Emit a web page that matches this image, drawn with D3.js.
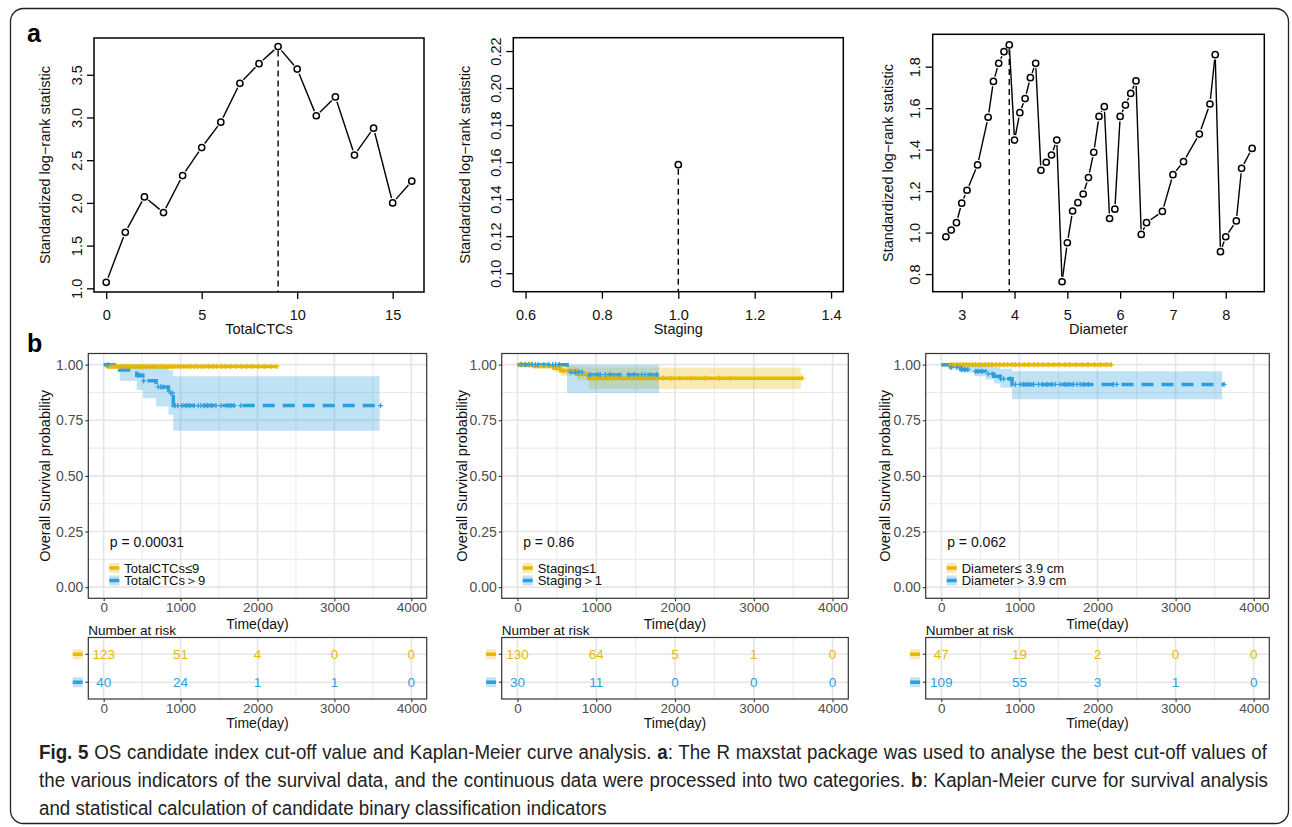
<!DOCTYPE html>
<html>
<head>
<meta charset="utf-8">
<script src="https://cdn.jsdelivr.net/npm/d3@7"></script>
<style>
  body { margin: 0; background: #fff; }
  svg text { font-family: "Liberation Sans", Arial, sans-serif; }
</style>
</head>
<body>
<svg id="fig" width="1292" height="827"></svg>
<script>
// ---- panel a: maxstat standardized log-rank statistic ----
const ctcCut = [0, 1, 2, 3, 4, 5, 6, 7, 8, 9, 10, 11, 12, 13, 14, 15, 16];
const ctcStat = [1.07, 1.656, 2.07, 1.887, 2.32, 2.648, 2.945, 3.40, 3.63, 3.83, 3.566, 3.02, 3.24, 2.56, 2.875, 2.0, 2.254];
const ctcBest = 9;

const stagingCut = [1.0];
const stagingStat = [0.1586];
const stagingBest = 1.0;

const diamCut = [2.7, 2.8, 2.9, 3.0, 3.1, 3.3, 3.5, 3.6, 3.7, 3.8, 3.9, 4.0, 4.1, 4.2, 4.3, 4.4, 4.5, 4.6, 4.7, 4.8,
  4.9, 5.0, 5.1, 5.2, 5.3, 5.4, 5.5, 5.6, 5.7, 5.8, 5.9, 6.0, 6.1, 6.2, 6.3, 6.4, 6.5, 6.8, 7.0, 7.2, 7.5, 7.7, 7.8,
  7.9, 8.0, 8.2, 8.3, 8.5];
const diamStat = [0.98, 1.012, 1.048, 1.142, 1.204, 1.326, 1.556, 1.729, 1.816, 1.872, 1.905, 1.446, 1.578, 1.646,
  1.747, 1.816, 1.30, 1.339, 1.374, 1.446, 0.763, 0.951, 1.104, 1.144, 1.186, 1.265, 1.387, 1.560, 1.607, 1.068,
  1.113, 1.560, 1.615, 1.671, 1.731, 0.991, 1.048, 1.102, 1.279, 1.342, 1.475, 1.62, 1.858, 0.908, 0.98, 1.056,
  1.31, 1.406];
const diamBest = 3.9;

// ---- panel b: Kaplan-Meier curves (time in days) ----
const ctcLowTime = [0, 50];
const ctcLowSurv = [1.0, 0.992];
const ctcLowLower = [1.0, 0.979];
const ctcLowUpper = [1.0, 1.0];
const ctcLowCensor = [62, 95, 128, 162, 190, 228, 255, 292, 318, 352, 381, 416, 447, 478, 512, 541, 578, 606, 643,
  671, 708, 742, 771, 812, 843, 884, 918, 962, 1003, 1041, 1092, 1128, 1177, 1218, 1272, 1318, 1371, 1424, 1468,
  1533, 1587, 1652, 1718, 1793, 1858, 1934, 2012, 2088, 2171, 2252];

const ctcHighTime = [0, 207, 430, 509, 682, 842, 905];
const ctcHighSurv = [1.0, 0.976, 0.952, 0.927, 0.900, 0.872, 0.816];
const ctcHighLower = [1.0, 0.928, 0.886, 0.849, 0.812, 0.775, 0.703];
const ctcHighUpper = [1.0, 1.0, 1.0, 0.99, 0.985, 0.975, 0.948];
const ctcHighCensor = [56, 440, 470, 520, 710, 740, 770, 870, 895, 930, 963, 1015, 1071, 1114, 1179, 1231, 1265,
  1308, 1351, 1403, 1460, 1525, 1611, 1654, 1697, 1784, 3600];

const stageLowTime = [0, 210, 462, 547, 758, 904];
const stageLowSurv = [1.0, 0.994, 0.984, 0.972, 0.957, 0.939];
const stageLowLower = [1.0, 0.983, 0.968, 0.950, 0.930, 0.890];
const stageLowUpper = [1.0, 1.0, 1.0, 0.995, 0.99, 0.987];
const stageLowCensor = [35, 72, 104, 141, 176, 214, 252, 289, 331, 368, 412, 449, 502, 538, 591, 642, 688, 742,
  791, 838, 882, 931, 966, 1003, 1038, 1082, 1121, 1158, 1203, 1248, 1302, 1349, 1401, 1452, 1498, 1561, 1622,
  1688, 1762, 1851, 1948, 2062, 2204, 2381, 2558, 2703, 3615];

const stageHighTime = [0, 630, 900];
const stageHighSurv = [1.0, 0.966, 0.955];
const stageHighLower = [1.0, 0.872, 0.872];
const stageHighUpper = [1.0, 1.0, 1.0];
const stageHighCensor = [50, 100, 150, 185, 230, 262, 335, 400, 450, 485, 530, 673, 736, 778, 821, 925, 1018,
  1052, 1115, 1178, 1304, 1410, 1481, 1578, 1620, 1683, 1768];

const diamLowTime = [0];
const diamLowSurv = [1.0];
const diamLowLower = [1.0];
const diamLowUpper = [1.0];
const diamLowCensor = [121, 158, 203, 239, 282, 318, 361, 402, 438, 483, 519, 562, 604, 648, 703, 748, 802, 849,
  903, 948, 1002, 1061, 1118, 1183, 1238, 1302, 1368, 1442, 1508, 1583, 1648, 1722, 1801, 1878, 1962, 2038, 2112,
  2178];

const diamHighTime = [0, 119, 250, 416, 565, 671, 756, 906];
const diamHighSurv = [1.0, 0.988, 0.978, 0.970, 0.958, 0.948, 0.936, 0.911];
const diamHighLower = [1.0, 0.978, 0.963, 0.948, 0.933, 0.915, 0.896, 0.844];
const diamHighUpper = [1.0, 1.0, 1.0, 0.998, 0.993, 0.988, 0.982, 0.970];
const diamHighCensor = [130, 200, 260, 300, 340, 440, 470, 520, 600, 650, 760, 800, 880, 948, 1011, 1054, 1097,
  1139, 1182, 1245, 1288, 1352, 1416, 1458, 1522, 1585, 1628, 1691, 1735, 1777, 1819, 1883, 2202, 2245, 3620];

const riskTimes = [0, 1000, 2000, 3000, 4000];
const ctcRiskLow = [123, 51, 4, 0, 0];
const ctcRiskHigh = [40, 24, 1, 1, 0];
const stageRiskLow = [130, 64, 5, 1, 0];
const stageRiskHigh = [30, 11, 0, 0, 0];
const diamRiskLow = [47, 19, 2, 0, 0];
const diamRiskHigh = [109, 55, 3, 1, 0];

const pValues = ["p = 0.00031", "p = 0.86", "p = 0.062"];
const legendLabels = [
  ["TotalCTCs≤9", "TotalCTCs＞9"],
  ["Staging≤1", "Staging＞1"],
  ["Diameter≤ 3.9 cm", "Diameter＞3.9 cm"]
];

const yellow = "#E7B800";
const blue = "#2E9FDF";

const svg = d3.select("#fig");
svg.append("rect").attr("width", 1292).attr("height", 827).attr("fill", "#fff");

// figure frame
svg.append("rect")
  .attr("x", 10.5).attr("y", 8.5).attr("width", 1278).attr("height", 815).attr("rx", 13)
  .attr("fill", "none").attr("stroke", "#222").attr("stroke-width", 1.3);

svg.append("text").attr("x", 27).attr("y", 42).text("a")
  .attr("font-size", 25).attr("font-weight", "bold");
svg.append("text").attr("x", 27).attr("y", 352).text("b")
  .attr("font-size", 25).attr("font-weight", "bold");

// ---------- maxstat plots ----------
function drawStat(p) {
  const x = d3.scaleLinear().domain(p.xDom).range([p.x0, p.x1]);
  const y = d3.scaleLinear().domain(p.yDom).range([p.y1, p.y0]);
  const g = svg.append("g");

  const xa = g.append("g").attr("transform", `translate(0,${p.y1})`)
    .call(d3.axisBottom(x).tickValues(p.xTicks).tickFormat(p.xFmt).tickSize(7).tickPadding(11).tickSizeOuter(0));
  xa.select(".domain").remove();
  xa.selectAll("line").attr("stroke", "#000").attr("stroke-width", 1.3);
  xa.selectAll("text").attr("font-size", 14.5).attr("fill", "#111");

  const ya = g.append("g").attr("transform", `translate(${p.x0},0)`)
    .call(d3.axisLeft(y).tickValues(p.yTicks).tickFormat(p.yFmt).tickSize(7).tickSizeOuter(0));
  ya.select(".domain").remove();
  ya.selectAll("line").attr("stroke", "#000").attr("stroke-width", 1.3);
  ya.selectAll("text")
    .attr("x", 0).attr("y", 0).attr("dy", "0.35em")
    .attr("text-anchor", "middle")
    .attr("transform", `translate(${-p.yLabOff},0) rotate(-90)`)
    .attr("font-size", 14.5).attr("fill", "#111");

  g.append("text")
    .attr("transform", `translate(${p.x0 - p.yTitleOff},${(p.y0 + p.y1) / 2}) rotate(-90)`)
    .attr("text-anchor", "middle").attr("dy", "0.35em")
    .attr("font-size", 14.5).attr("fill", "#111")
    .text("Standardized log\u2212rank statistic");
  g.append("text")
    .attr("x", (p.x0 + p.x1) / 2).attr("y", 329).attr("dy", "0.35em")
    .attr("text-anchor", "middle").attr("font-size", 14.5).attr("fill", "#111")
    .text(p.title);

  // cut-off line
  const bi = p.cut.indexOf(p.best);
  g.append("line")
    .attr("x1", x(p.best)).attr("x2", x(p.best))
    .attr("y1", y(p.stat[bi]) + 4).attr("y2", p.y1)
    .attr("stroke", "#000").attr("stroke-width", 1.4).attr("stroke-dasharray", "6,4");

  // type = "b" segments with gaps around points
  const pts = p.cut.map((c, i) => [x(c), y(p.stat[i])]);
  const gap = 5;
  for (let i = 0; i < pts.length - 1; i++) {
    const [ax, ay] = pts[i], [bx, by] = pts[i + 1];
    const dx = bx - ax, dy = by - ay, len = Math.hypot(dx, dy);
    if (len <= 2 * gap + 1) continue;
    const ux = dx / len, uy = dy / len;
    g.append("line")
      .attr("x1", ax + ux * gap).attr("y1", ay + uy * gap)
      .attr("x2", bx - ux * gap).attr("y2", by - uy * gap)
      .attr("stroke", "#000").attr("stroke-width", 1.4);
  }
  g.selectAll("circle.pt").data(pts).enter().append("circle")
    .attr("class", "pt")
    .attr("cx", d => d[0]).attr("cy", d => d[1]).attr("r", 3.1)
    .attr("fill", "#fff").attr("stroke", "#000").attr("stroke-width", 1.5);

  g.append("rect")
    .attr("x", p.x0).attr("y", p.y0).attr("width", p.x1 - p.x0).attr("height", p.y1 - p.y0)
    .attr("fill", "none").attr("stroke", "#000").attr("stroke-width", 1.5);
}

drawStat({
  x0: 94, x1: 424, y0: 38, y1: 292, xDom: [-0.64, 16.64], yDom: [0.957, 3.93],
  xTicks: [0, 5, 10, 15], xFmt: d3.format("d"), yTicks: [1.0, 1.5, 2.0, 2.5, 3.0, 3.5], yFmt: d3.format(".1f"),
  yLabOff: 17, yTitleOff: 49, title: "TotalCTCs", cut: ctcCut, stat: ctcStat, best: ctcBest
});
drawStat({
  x0: 513.3, x1: 843.3, y0: 37.7, y1: 291.7, xDom: [0.568, 1.432], yDom: [0.090, 0.2272],
  xTicks: [0.6, 0.8, 1.0, 1.2, 1.4], xFmt: d3.format(".1f"),
  yTicks: [0.10, 0.12, 0.14, 0.16, 0.18, 0.20, 0.22], yFmt: d3.format(".2f"),
  yLabOff: 17, yTitleOff: 48, title: "Staging", cut: stagingCut, stat: stagingStat, best: stagingBest
});
drawStat({
  x0: 932.7, x1: 1264.3, y0: 34.3, y1: 291.7, xDom: [2.45, 8.73], yDom: [0.715, 1.956],
  xTicks: [3, 4, 5, 6, 7, 8], xFmt: d3.format("d"), yTicks: [0.8, 1.0, 1.2, 1.4, 1.6, 1.8], yFmt: d3.format(".1f"),
  yLabOff: 17.5, yTitleOff: 45, title: "Diameter", cut: diamCut, stat: diamStat, best: diamBest
});

// ---------- Kaplan-Meier plots ----------
const kmY0 = 353.5, kmY1 = 598.3, tabY0 = 637.5, tabY1 = 699;
const majorT = [0, 1000, 2000, 3000, 4000], minorT = [500, 1500, 2500, 3500];
const majorS = [0, 0.25, 0.5, 0.75, 1.0], minorS = [0.125, 0.375, 0.625, 0.875];

function keyGlyph(g, cx, cy, color) {
  g.append("rect").attr("x", cx - 5).attr("y", cy - 5).attr("width", 10).attr("height", 10)
    .attr("fill", color).attr("fill-opacity", 0.3);
  g.append("line").attr("x1", cx - 5).attr("x2", cx + 5).attr("y1", cy).attr("y2", cy)
    .attr("stroke", color).attr("stroke-width", 3.5);
}

function drawKM(p) {
  const x = d3.scaleLinear().domain([-200, 4200]).range([p.x0, p.x1]);
  const y = d3.scaleLinear().domain([-0.05, 1.05]).range([kmY1, kmY0]);
  const g = svg.append("g");

  // grid
  g.selectAll("line.mnx").data(minorT).enter().append("line")
    .attr("x1", d => x(d)).attr("x2", d => x(d)).attr("y1", kmY0).attr("y2", kmY1)
    .attr("stroke", "#EBEBEB").attr("stroke-width", 1.1);
  g.selectAll("line.mny").data(minorS).enter().append("line")
    .attr("y1", d => y(d)).attr("y2", d => y(d)).attr("x1", p.x0).attr("x2", p.x1)
    .attr("stroke", "#EBEBEB").attr("stroke-width", 1.1);
  g.selectAll("line.mjx").data(majorT).enter().append("line")
    .attr("x1", d => x(d)).attr("x2", d => x(d)).attr("y1", kmY0).attr("y2", kmY1)
    .attr("stroke", "#E6E6E6").attr("stroke-width", 1.6);
  g.selectAll("line.mjy").data(majorS).enter().append("line")
    .attr("y1", d => y(d)).attr("y2", d => y(d)).attr("x1", p.x0).attr("x2", p.x1)
    .attr("stroke", "#E6E6E6").attr("stroke-width", 1.6);

  const line = d3.line().curve(d3.curveStepAfter).x(d => x(d[0])).y(d => y(d[1]));
  const area = d3.area().curve(d3.curveStepAfter).x(d => x(d.t)).y0(d => y(d.lo)).y1(d => y(d.hi));

  // survival curves
  p.groups.forEach(gr => {
    const pts = gr.time.map((t, i) => [t, gr.surv[i]]);
    pts.push([gr.end, gr.surv[gr.surv.length - 1]]);
    g.append("path").attr("d", line(pts)).attr("fill", "none")
      .attr("stroke", gr.color).attr("stroke-width", 3.5)
      .attr("stroke-dasharray", gr.dashed ? "12,8" : null);
  });
  // confidence bands
  p.groups.forEach(gr => {
    const n = gr.time.length;
    if (gr.lower.every((v, i) => v === gr.upper[i])) return;
    const band = gr.time.map((t, i) => ({ t, lo: gr.lower[i], hi: gr.upper[i] }));
    band.push({ t: gr.bandEnd, lo: gr.lower[n - 1], hi: gr.upper[n - 1] });
    g.append("path").attr("d", area(band)).attr("fill", gr.color).attr("fill-opacity", 0.3);
  });
  // censor marks
  p.groups.forEach(gr => {
    gr.censor.forEach(c => {
      const i = Math.max(0, d3.bisectRight(gr.time, c) - 1);
      const cx = x(c), cy = y(gr.surv[i]);
      g.append("path").attr("d", `M${cx - 2.6},${cy}H${cx + 2.6}M${cx},${cy - 2.6}V${cy + 2.6}`)
        .attr("stroke", gr.color).attr("stroke-width", 1.3).attr("fill", "none");
    });
  });

  g.append("rect").attr("x", p.x0).attr("y", kmY0).attr("width", p.x1 - p.x0).attr("height", kmY1 - kmY0)
    .attr("fill", "none").attr("stroke", "#333").attr("stroke-width", 1.2);

  // axes
  const xa = g.append("g").attr("transform", `translate(0,${kmY1})`)
    .call(d3.axisBottom(x).tickValues(majorT).tickFormat(d3.format("d")).tickSize(3).tickPadding(1).tickSizeOuter(0));
  xa.select(".domain").remove();
  xa.selectAll("line").attr("stroke", "#333").attr("stroke-width", 1.1);
  xa.selectAll("text").attr("font-size", 13.5).attr("fill", "#4D4D4D");
  const ya = g.append("g").attr("transform", `translate(${p.x0},0)`)
    .call(d3.axisLeft(y).tickValues(majorS).tickFormat(d3.format(".2f")).tickSize(3).tickPadding(2).tickSizeOuter(0));
  ya.select(".domain").remove();
  ya.selectAll("line").attr("stroke", "#333").attr("stroke-width", 1.1);
  ya.selectAll("text").attr("font-size", 14).attr("fill", "#4D4D4D");

  g.append("text").attr("x", (p.x0 + p.x1) / 2).attr("y", 628.5).attr("text-anchor", "middle")
    .attr("font-size", 14).attr("fill", "#111").text("Time(day)");
  g.append("text")
    .attr("transform", `translate(${p.yTitleX},${(kmY0 + kmY1) / 2}) rotate(-90)`)
    .attr("text-anchor", "middle").attr("dy", "0.35em")
    .attr("font-size", 14.5).attr("fill", "#111").text("Overall Survival probability");

  // p value and legend
  g.append("text").attr("x", p.x0 + 21.5).attr("y", 542.5).attr("dy", "0.35em")
    .attr("font-size", 14).attr("fill", "#111").text(p.pval);
  p.groups.forEach((gr, i) => {
    const cy = 568 + i * 12.5;
    keyGlyph(g, p.x0 + 26, cy, gr.color);
    g.append("text").attr("x", p.x0 + 36).attr("y", cy).attr("dy", "0.36em")
      .attr("font-size", 13).attr("fill", "#111").text(gr.label);
  });

  // number at risk table
  const ry = d3.scalePoint().domain([0, 1]).range([tabY0, tabY1]).padding(0.6);
  const t = svg.append("g");
  t.append("text").attr("x", p.x0).attr("y", 634.5).attr("font-size", 13.5).attr("fill", "#111")
    .text("Number at risk");
  t.selectAll("line.tmn").data(minorT).enter().append("line")
    .attr("x1", d => x(d)).attr("x2", d => x(d)).attr("y1", tabY0).attr("y2", tabY1)
    .attr("stroke", "#EBEBEB").attr("stroke-width", 1.1);
  t.selectAll("line.tmj").data(majorT).enter().append("line")
    .attr("x1", d => x(d)).attr("x2", d => x(d)).attr("y1", tabY0).attr("y2", tabY1)
    .attr("stroke", "#E6E6E6").attr("stroke-width", 1.6);
  t.selectAll("line.trow").data([0, 1]).enter().append("line")
    .attr("y1", d => ry(d)).attr("y2", d => ry(d)).attr("x1", p.x0).attr("x2", p.x1)
    .attr("stroke", "#E6E6E6").attr("stroke-width", 1.6);
  p.groups.forEach((gr, i) => {
    t.selectAll(null).data(gr.risk).enter().append("text")
      .attr("x", (d, j) => x(riskTimes[j])).attr("y", ry(i)).attr("dy", "0.36em")
      .attr("text-anchor", "middle").attr("font-size", 13.5).attr("fill", gr.color)
      .text(d => d);
    keyGlyph(t, p.x0 - 10.6, ry(i), gr.color);
    t.append("line").attr("x1", p.x0 - 3).attr("x2", p.x0).attr("y1", ry(i)).attr("y2", ry(i))
      .attr("stroke", "#333").attr("stroke-width", 1.1);
  });
  t.append("rect").attr("x", p.x0).attr("y", tabY0).attr("width", p.x1 - p.x0).attr("height", tabY1 - tabY0)
    .attr("fill", "none").attr("stroke", "#333").attr("stroke-width", 1.2);
  const ta = t.append("g").attr("transform", `translate(0,${tabY1})`)
    .call(d3.axisBottom(x).tickValues(majorT).tickFormat(d3.format("d")).tickSize(3).tickPadding(1).tickSizeOuter(0));
  ta.select(".domain").remove();
  ta.selectAll("line").attr("stroke", "#333").attr("stroke-width", 1.1);
  ta.selectAll("text").attr("font-size", 13.5).attr("fill", "#4D4D4D");
  t.append("text").attr("x", (p.x0 + p.x1) / 2).attr("y", 728).attr("text-anchor", "middle")
    .attr("font-size", 14).attr("fill", "#111").text("Time(day)");
}

function grp(time, surv, lower, upper, censor, end, bandEnd, risk, color, dashed, label) {
  return { time, surv, lower, upper, censor, end, bandEnd, risk, color, dashed, label };
}

drawKM({
  x0: 88.3, x1: 426.7, yTitleX: 45, pval: pValues[0],
  groups: [
    grp(ctcLowTime, ctcLowSurv, ctcLowLower, ctcLowUpper, ctcLowCensor, 2255, 900, ctcRiskLow, yellow, false, legendLabels[0][0]),
    grp(ctcHighTime, ctcHighSurv, ctcHighLower, ctcHighUpper, ctcHighCensor, 3610, 3588, ctcRiskHigh, blue, true, legendLabels[0][1])
  ]
});
drawKM({
  x0: 501.7, x1: 848.3, yTitleX: 461.7, pval: pValues[1],
  groups: [
    grp(stageLowTime, stageLowSurv, stageLowLower, stageLowUpper, stageLowCensor, 3619, 3598, stageRiskLow, yellow, false, legendLabels[1][0]),
    grp(stageHighTime, stageHighSurv, stageHighLower, stageHighUpper, stageHighCensor, 1790, 1797, stageRiskHigh, blue, true, legendLabels[1][1])
  ]
});
drawKM({
  x0: 925.7, x1: 1269.3, yTitleX: 885, pval: pValues[2],
  groups: [
    grp(diamLowTime, diamLowSurv, diamLowLower, diamLowUpper, diamLowCensor, 2181, 2181, diamRiskLow, yellow, false, legendLabels[2][0]),
    grp(diamHighTime, diamHighSurv, diamHighLower, diamHighUpper, diamHighCensor, 3626, 3597, diamRiskHigh, blue, true, legendLabels[2][1])
  ]
});

// ---------- caption (condensed by a horizontal scale) ----------
const captionLines = [
  [["Fig. 5", true], [" OS candidate index cut-off value and Kaplan-Meier curve analysis. ", false], ["a", true],
   [": The R maxstat package was used to analyse the best cut-off values of", false]],
  [["the various indicators of the survival data, and the continuous data were processed into two categories. ", false],
   ["b", true], [": Kaplan-Meier curve for survival analysis", false]],
  [["and statistical calculation of candidate binary classification indicators", false]]
];
const capX = 39, capRight = [1267, 1268, 607], capY = [759, 787, 815];
const capNodes = captionLines.map((segs, li) => {
  const tx = svg.append("text").attr("x", 0).attr("y", 0)
    .attr("font-size", 20).attr("fill", "#222");
  segs.forEach(([s, b]) => tx.append("tspan").attr("font-weight", b ? "bold" : null).text(s));
  return tx;
});
const w3 = capNodes[2].node().getComputedTextLength();
const sx = (capRight[2] - capX) / w3;
capNodes.forEach((tx, li) => {
  tx.attr("transform", `translate(${capX},${capY[li]}) scale(${sx},1)`);
  if (li < 2) {
    const w = tx.node().getComputedTextLength();
    const spaces = captionLines[li].map(s => s[0]).join("").split(" ").length - 1;
    tx.style("word-spacing", (((capRight[li] - capX) / sx - w) / spaces) + "px");
  }
});
</script>
</body>
</html>
